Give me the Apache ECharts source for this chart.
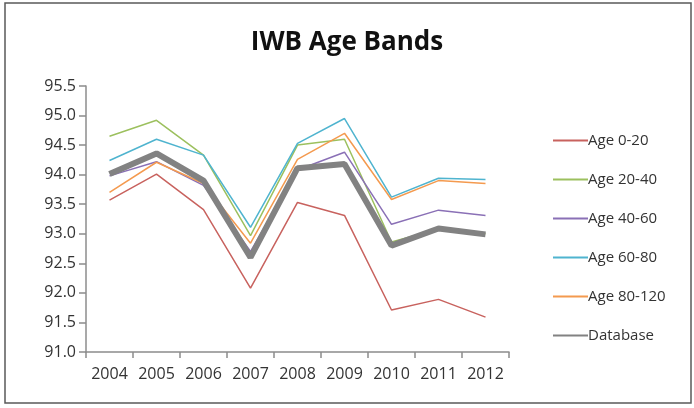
<!DOCTYPE html>
<html>
<head>
<meta charset="utf-8">
<script src="https://cdn.jsdelivr.net/npm/echarts@6/dist/echarts.min.js"></script>
<style>
  html, body { margin: 0; padding: 0; background: #fff; }
  #chart { width: 694px; height: 408px; }
</style>
</head>
<body>
<div id="chart"></div>
<script>
// Survey years on the category axis
const years = ['2004', '2005', '2006', '2007', '2008', '2009', '2010', '2011', '2012'];

// Values per age band
const age0to20   = [93.57, 94.01, 93.41, 92.08, 93.53, 93.31, 91.71, 91.89, 91.59];
const age20to40  = [94.65, 94.92, 94.33, 92.97, 94.50, 94.60, 92.86, 93.08, 93.00];
const age40to60  = [93.98, 94.22, 93.82, 92.70, 94.08, 94.38, 93.16, 93.40, 93.31];
const age60to80  = [94.24, 94.60, 94.33, 93.11, 94.53, 94.95, 93.62, 93.94, 93.92];
const age80to120 = [93.70, 94.21, 93.85, 92.84, 94.26, 94.70, 93.58, 93.90, 93.85];
const database   = [94.01, 94.36, 93.90, 92.60, 94.11, 94.18, 92.80, 93.09, 92.99];

// Y axis range and step
const yMin = 91.0, yMax = 95.5, yStep = 0.5;

const font = '"Open Sans", "DejaVu Sans", sans-serif';

function band(name, data, color, width, z) {
  return {
    name: name,
    type: 'line',
    data: data,
    symbol: 'none',
    z: z,
    lineStyle: { color: color, width: width },
    itemStyle: { color: color },
    emphasis: { disabled: true }
  };
}

const chart = echarts.init(document.getElementById('chart'), null, { renderer: 'canvas' });

chart.setOption({
  animation: false,
  backgroundColor: '#ffffff',
  title: {
    text: 'IWB Age Bands',
    left: 'center',
    top: 25,
    textStyle: { fontFamily: font, fontSize: 26, fontWeight: 'bold', color: '#111' }
  },
  legend: {
    orient: 'vertical',
    left: 547,
    top: 128,
    itemWidth: 35,
    itemHeight: 14,
    itemGap: 24,
    // line-only keys, no marker dot
    itemStyle: { color: 'transparent', borderWidth: 0, opacity: 0 },
    textStyle: { fontFamily: font, fontSize: 15, color: '#333', padding: [0, 0, 0, -5] },
    data: ['Age 0-20', 'Age 20-40', 'Age 40-60', 'Age 60-80', 'Age 80-120', 'Database']
  },
  grid: { left: 86, right: 185, top: 86, bottom: 56 },
  xAxis: {
    type: 'category',
    data: years,
    boundaryGap: true,
    axisLine: { lineStyle: { color: '#8c8c8c', width: 1.5 } },
    axisTick: { show: true, length: 6, lineStyle: { color: '#8c8c8c', width: 1.5 } },
    axisLabel: { fontFamily: font, fontSize: 16, color: '#333', margin: 14, interval: 0, hideOverlap: false }
  },
  yAxis: {
    type: 'value',
    min: yMin,
    max: yMax,
    interval: yStep,
    axisLine: { show: true, lineStyle: { color: '#8c8c8c', width: 1.5 } },
    axisTick: { show: true, length: 7, lineStyle: { color: '#8c8c8c', width: 1.5 } },
    splitLine: { show: false },
    axisLabel: {
      fontFamily: font, fontSize: 16, color: '#333', margin: 10,
      formatter: v => v.toFixed(1)
    }
  },
  series: [
    band('Age 0-20', age0to20, '#c8625e', 1.5, 3),
    band('Age 20-40', age20to40, '#9cc05e', 1.5, 3),
    band('Age 40-60', age40to60, '#8a70b6', 1.5, 3),
    band('Age 60-80', age60to80, '#4fb4cf', 1.5, 3),
    band('Age 80-120', age80to120, '#f49a4f', 1.5, 3),
    band('Database', database, '#828282', 6, 4)
  ],
  graphic: [{
    type: 'rect',
    shape: { x: 5, y: 3, width: 686, height: 400 },
    style: { fill: 'none', stroke: '#5a5a5a', lineWidth: 1.5 },
    silent: true
  }]
});
</script>
</body>
</html>
